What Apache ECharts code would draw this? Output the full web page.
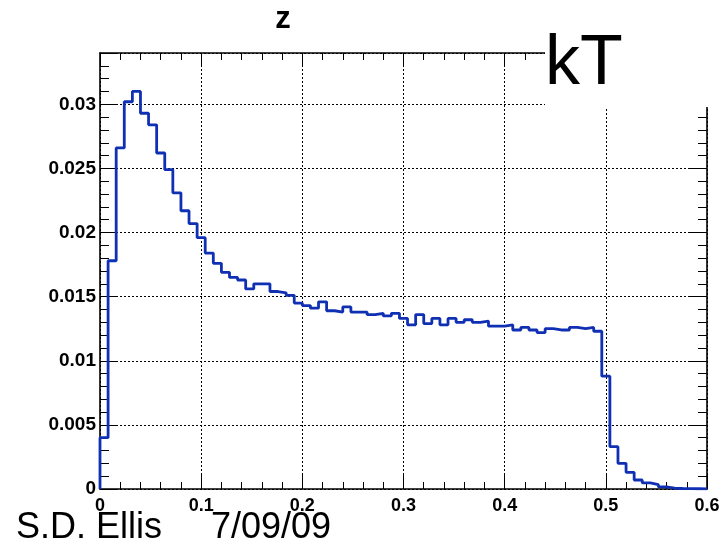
<!DOCTYPE html>
<html>
<head>
<meta charset="utf-8">
<script src="https://cdn.jsdelivr.net/npm/echarts@6/dist/echarts.min.js"></script>
<style>
  html, body { margin: 0; padding: 0; background: #fff; }
  #chart { width: 725px; height: 544px; }
</style>
</head>
<body>
<div id="chart"></div>
<script>
// ---- data ----
const binWidth = 0.008;       // 75 bins over [0, 0.6]
const binValues = [
  0.0040, 0.0178, 0.0266, 0.0302, 0.0310, 0.0293, 0.0284, 0.0262, 0.0249, 0.0231,
  0.0217, 0.0207, 0.0196, 0.0184, 0.0176, 0.0169, 0.0165, 0.0163, 0.0156, 0.0160,
  0.0160, 0.0154, 0.0153, 0.0151, 0.0145, 0.0143, 0.0141, 0.0146, 0.0139, 0.0138,
  0.0142, 0.0138, 0.0138, 0.0136, 0.0137, 0.0135, 0.0137, 0.0133, 0.0128, 0.0136,
  0.0129, 0.0133, 0.0128, 0.0133, 0.0130, 0.0132, 0.0130, 0.0131, 0.0127, 0.0127,
  0.0128, 0.0124, 0.0126, 0.0124, 0.0122, 0.0125, 0.0124, 0.0124, 0.0126, 0.0125,
  0.0126, 0.0123, 0.0088, 0.0033, 0.0020, 0.0013, 0.0007, 0.00047, 0.00034, 0.00016,
  0.00006, 0.00004, 0.00003, 0.00002, 0.00001
];
const xTicks = [0, 0.1, 0.2, 0.3, 0.4, 0.5, 0.6];
const yTicks = [0, 0.005, 0.01, 0.015, 0.02, 0.025, 0.03];
const titleText = 'z';
const cornerText = 'kT';
const authorText = 'S.D. Ellis';
const dateText = '7/09/09';

// ---- build step outline ----
const xMax = xTicks[xTicks.length - 1];
const stepData = [[0, 0]];
binValues.forEach((v, i) => stepData.push([i * binWidth, v]));
stepData.push([xMax, binValues[binValues.length - 1]]);

const FONT = '"Liberation Sans", Arial, Helvetica, sans-serif';
const frame = { show: true, onZero: false, lineStyle: { color: '#000', width: 1.6 } };
const grid = { type: [2, 2], color: '#000', width: 1 };

const chart = echarts.init(document.getElementById('chart'), null, { renderer: 'canvas' });
chart.setOption({
  animation: false,
  backgroundColor: '#fff',
  grid: { left: 100, right: 18, top: 53, bottom: 55, containLabel: false },
  xAxis: [
    {
      type: 'value', min: xTicks[0], max: xMax, interval: xTicks[1] - xTicks[0],
      position: 'bottom',
      axisLine: frame,
      axisTick: { show: true, inside: true, length: 14, lineStyle: { color: '#000', width: 1 } },
      minorTick: { show: true, splitNumber: 5, length: 7, lineStyle: { color: '#000', width: 1 } },
      splitLine: { show: true, lineStyle: grid },
      axisLabel: { show: true, margin: 8, color: '#000', fontFamily: FONT, fontWeight: 'bold', fontSize: 18 }
    },
    {
      type: 'value', min: xTicks[0], max: xMax, interval: xTicks[1] - xTicks[0],
      position: 'top',
      axisLine: frame,
      axisTick: { show: true, inside: true, length: 12, lineStyle: { color: '#000', width: 1 } },
      minorTick: { show: true, splitNumber: 5, length: 7, lineStyle: { color: '#000', width: 1 } },
      splitLine: { show: false },
      axisLabel: { show: false }
    }
  ],
  yAxis: [
    {
      type: 'value', min: 0, max: 0.034, interval: yTicks[1] - yTicks[0],
      position: 'left',
      axisLine: frame,
      axisTick: { show: true, inside: true, length: 18, lineStyle: { color: '#000', width: 1 } },
      minorTick: { show: true, splitNumber: 5, length: 9, lineStyle: { color: '#000', width: 1 } },
      splitLine: { show: true, lineStyle: grid },
      axisLabel: { show: true, showMaxLabel: false, margin: 4, color: '#000', fontFamily: FONT, fontWeight: 'bold', fontSize: 19 }
    },
    {
      type: 'value', min: 0, max: 0.034, interval: yTicks[1] - yTicks[0],
      position: 'right',
      axisLine: frame,
      axisTick: { show: true, inside: true, length: 18, lineStyle: { color: '#000', width: 1 } },
      minorTick: { show: true, splitNumber: 5, length: 9, lineStyle: { color: '#000', width: 1 } },
      splitLine: { show: false },
      axisLabel: { show: false }
    }
  ],
  series: [
    {
      type: 'line',
      xAxisIndex: 0, yAxisIndex: 0,
      step: 'end',
      data: stepData,
      showSymbol: false,
      symbol: 'none',
      lineStyle: { color: '#1030b4', width: 2.8 },
      z: 5
    }
  ],
  graphic: [
    { type: 'rect', z: 100, shape: { x: 545, y: 0, width: 180, height: 107 }, style: { fill: '#fff' } },
    { type: 'text', z: 101, x: 545, y: 65, style: { text: cornerText, font: '70px ' + FONT, fill: '#000', verticalAlign: 'middle', align: 'left' } },
    { type: 'text', z: 101, x: 283, y: 19, style: { text: titleText, font: 'bold 31px ' + FONT, fill: '#000', verticalAlign: 'middle', align: 'center' } },
    { type: 'text', z: 101, x: 16, y: 528, style: { text: authorText, font: '36px ' + FONT, fill: '#000', verticalAlign: 'middle', align: 'left' } },
    { type: 'text', z: 101, x: 211, y: 528, style: { text: dateText, font: '36px ' + FONT, fill: '#000', verticalAlign: 'middle', align: 'left' } }
  ]
});
</script>
</body>
</html>
